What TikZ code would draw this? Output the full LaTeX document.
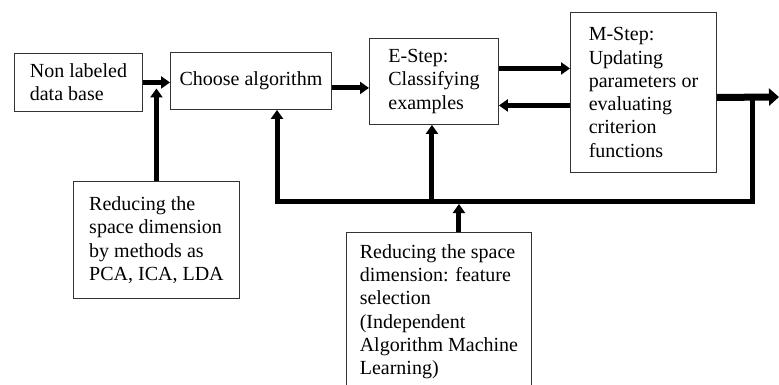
\documentclass[tikz,border=0pt]{standalone}
\usepackage{fontspec}
\setmainfont{Liberation Serif}
\usetikzlibrary{arrows.meta,calc}
\begin{document}
\begin{tikzpicture}[x=1pt,y=-1pt,
  box/.style={draw=black!80, line width=0.9pt, align=left, anchor=north west,
    font=\fontsize{20}{23.3}\selectfont, inner sep=0pt},
  flow/.style={line width=5pt, -{Triangle[length=9pt,width=12pt]}},
  outflow/.style={line width=7pt, -{Triangle[length=10pt,width=17pt]}}]
\useasboundingbox (0,0) rectangle (779,385);

% blocks
\node[box, minimum width=128pt, minimum height=58pt] (db) at (14,53) {Non labeled\\data base};
\node[box, minimum width=161pt, minimum height=57pt] (alg) at (170,52) {Choose algorithm};
\node[box, minimum width=129pt, minimum height=86pt] (E) at (369,38) {E-Step:\\Classifying\\examples};
\node[box, minimum width=146pt, minimum height=160pt] (M) at (570,12)
  {M-Step:\\Updating\\parameters or\\evaluating\\criterion\\functions};
\node[box, minimum width=166pt, minimum height=117pt] (pca) at (73,181)
  {Reducing the\\space dimension\\by methods as\\PCA, ICA, LDA};
\node[box, minimum width=185pt, inner ysep=12pt] (feat) at (346,232)
  {Reducing the space\\dimension: feature\\selection\\(Independent\\Algorithm Machine\\Learning)};

% junction points of the feedback bus
\coordinate (jM) at (752,97);
\coordinate (busR) at (752,201);
\coordinate (busL) at (277,201);
\coordinate (out) at (779,97);

% main flow
\draw[flow] (db.east) -- (db.east -| alg.west);
\draw[flow] (pca.north) -- ($(pca.north |- db.east)+(0,6)$);
\draw[flow] ([yshift=-7pt]alg.east) -- ([yshift=-7pt]alg.east -| E.west);
\draw[flow] ([yshift=13pt]E.east) -- ([yshift=13pt]E.east -| M.west);
\draw[flow] ([yshift=-13pt]M.west) -- ([yshift=-13pt]M.west -| E.east);
\draw[outflow] ([yshift=-5pt]M.east) -- (out);

% feedback bus
\draw[flow] (jM) -- (busR) -- (busL) -- (busL |- alg.south);
\draw[flow] ([xshift=-2pt]E.south |- busL) -- ([xshift=-2pt]E.south);
\draw[flow] ([xshift=20pt]feat.north) -- ($([xshift=20pt]feat.north |- busL)+(0,3)$);
\end{tikzpicture}
\end{document}
